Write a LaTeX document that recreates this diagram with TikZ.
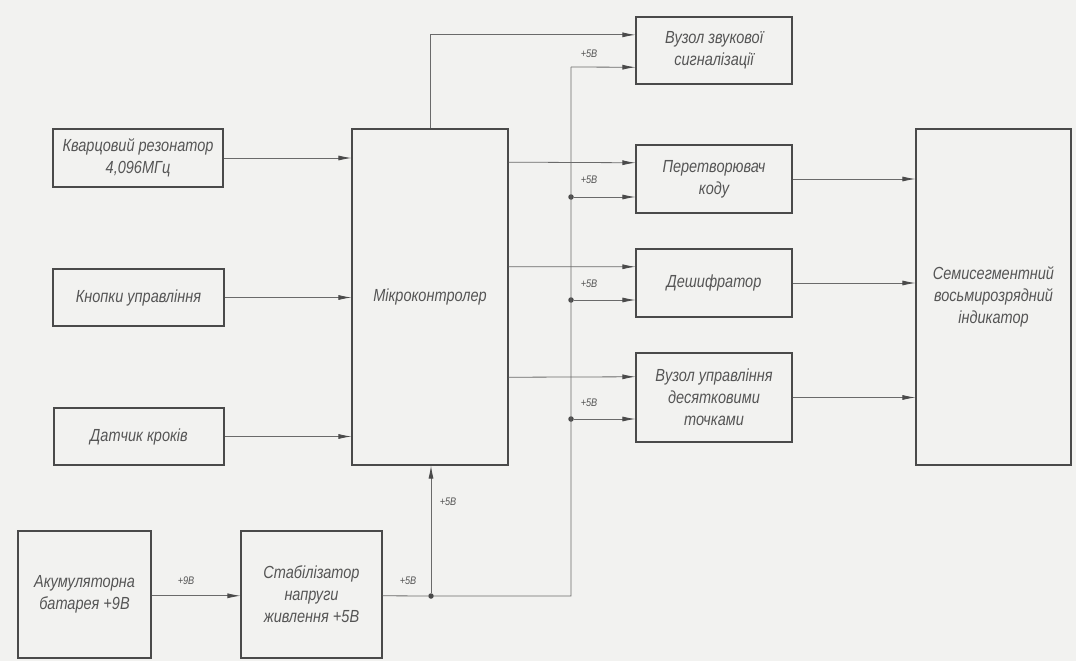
\documentclass[tikz,border=0pt]{standalone}
\usepackage{fontspec}
\setmainfont{Liberation Sans}[FakeStretch=0.83]
\usetikzlibrary{arrows.meta,calc}
\definecolor{bg}{HTML}{F2F2F0}
\definecolor{ink}{HTML}{4A4A4A}
\definecolor{wire}{HTML}{6A6A6A}
\definecolor{txt}{HTML}{555555}
\begin{document}
\begin{tikzpicture}[x=1pt,y=-1pt,
  blk/.style={draw=ink,line width=1.1pt,inner sep=0pt,align=center,
    font=\fontsize{17.5}{22}\selectfont\itshape,text=txt},
  arr/.style={draw=wire,line width=0.8pt,-{Latex[length=13pt,width=5pt,color=ink]}},
  ln/.style={draw=wire,line width=0.8pt},
  lbl/.style={font=\fontsize{11}{13}\selectfont\itshape,text=txt,inner sep=0pt},
  jn/.style={circle,fill=ink,inner sep=0pt,minimum size=5.5pt}]
\fill[bg] (0,0) rectangle (1076,661);
\useasboundingbox (0,0) rectangle (1076,661);
% blocks
\node[blk,minimum width=170pt,minimum height=58pt] (kv) at (138,158) {Кварцовий резонатор\\4,096МГц};
\node[blk,minimum width=171pt,minimum height=57pt] (kn) at (138.5,297.5) {Кнопки управління};
\node[blk,minimum width=170pt,minimum height=57pt] (dat) at (139,436.5) {Датчик кроків};
\node[blk,minimum width=156pt,minimum height=336pt] (mc) at (430,297) {Мікроконтролер};
\node[blk,minimum width=156pt,minimum height=67pt] (zv) at (714,50.5) {Вузол звукової\\сигналізації};
\node[blk,minimum width=156pt,minimum height=68pt] (per) at (714,179) {Перетворювач\\коду};
\node[blk,minimum width=156pt,minimum height=68pt] (desh) at (714,283) {Дешифратор};
\node[blk,minimum width=156pt,minimum height=89pt] (vuz) at (714,397.5) {Вузол управління\\десятковими\\точками};
\node[blk,minimum width=155pt,minimum height=336pt] (ind) at (993.5,297) {Семисегментний\\восьмирозрядний\\індикатор};
\node[blk,minimum width=133pt,minimum height=127pt] (akk) at (84.5,594.5) {Акумуляторна\\батарея +9В};
\node[blk,minimum width=141pt,minimum height=127pt] (stab) at (311.5,594.5) {Стабілізатор\\напруги\\живлення +5В};
% junctions and bus corners
\node[jn] (j0) at (431,596) {};
\node[jn] (j1) at (571,197) {};
\node[jn] (j2) at (571,300) {};
\node[jn] (j3) at (571,419) {};
\coordinate (bb) at (571,596);
\coordinate (bt) at (571,67);
% inputs to microcontroller
\draw[arr] (kv.east) -- (kv.east -| mc.west);
\draw[arr] (kn.east) -- (kn.east -| mc.west);
\draw[arr] (dat.east) -- (dat.east -| mc.west);
% microcontroller outputs
\draw[arr] (mc.north) |- ($(zv.north west)!0.27!(zv.south west)$);
\draw[arr] ($(mc.north east)!0.10!(mc.south east)$) -- ($(per.north west)!0.265!(per.south west)$);
\draw[arr] ($(mc.north east)!0.41!(mc.south east)$) -- ($(desh.north west)!0.265!(desh.south west)$);
\draw[arr] ($(mc.north east)!0.738!(mc.south east)$) -- ($(vuz.north west)!0.27!(vuz.south west)$);
% to indicator
\draw[arr] (per.east) -- (per.east -| ind.west);
\draw[arr] (desh.east) -- (desh.east -| ind.west);
\draw[arr] (vuz.east) -- (vuz.east -| ind.west);
% power
\draw[arr] ($(akk.north east)!0.51!(akk.south east)$) -- ($(stab.north west)!0.51!(stab.south west)$);
\draw[ln] ($(stab.north east)!0.51!(stab.south east)$) -- (j0) -- (bb) -- (bt);
\draw[arr] (j0) -- (j0 |- mc.south);
\draw[arr] (bt) -- ($(zv.north west)!0.746!(zv.south west)$);
\draw[arr] (j1) -- (j1 -| per.west);
\draw[arr] (j2) -- (j2 -| desh.west);
\draw[arr] (j3) -- (j3 -| vuz.west);
% labels
\node[lbl] (l1) at (589,54) {+5В};
\node[lbl] (l2) at (589,180) {+5В};
\node[lbl] (l3) at (589,284) {+5В};
\node[lbl] (l4) at (589,403) {+5В};
\node[lbl] (l5) at (448,502) {+5В};
\node[lbl] (l6) at (408,581) {+5В};
\node[lbl] (l7) at (186,581) {+9В};
\end{tikzpicture}
\end{document}
